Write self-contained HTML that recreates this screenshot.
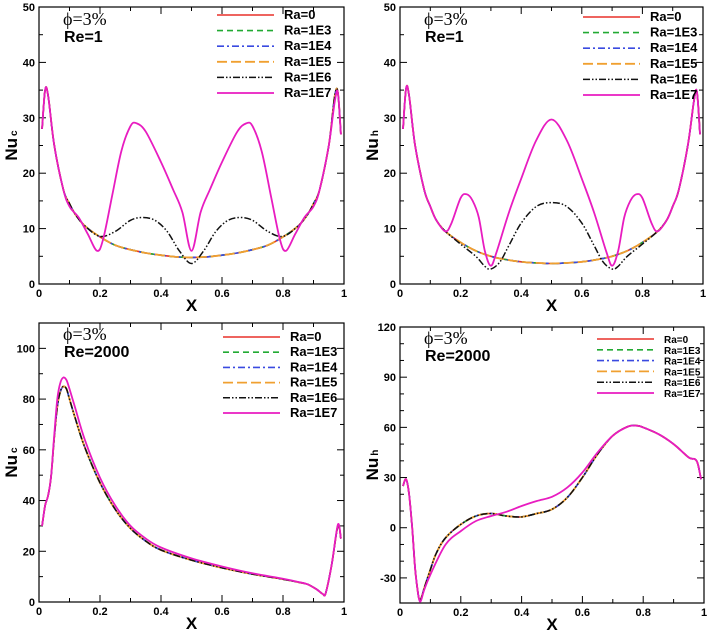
<!DOCTYPE html>
<html><head><meta charset="utf-8"><style>
body{margin:0;background:#fff;}
svg{display:block;font-family:"Liberation Sans",sans-serif;}
</style></head><body>
<svg id="fig" width="709" height="633" viewBox="0 0 709 633"></svg>
<script>
// ---- data ----
const tlBaseX=[0.01,0.02,0.03,0.05,0.08,0.1,0.12,0.15,0.2,0.25,0.3,0.35,0.4,0.45,0.5,0.55,0.6,0.65,0.7,0.75,0.8,0.85,0.88,0.9,0.92,0.95,0.97,0.98,0.99];
const tlBaseY=[28,35,34,25,17,14.5,12.5,10.5,8.5,7,6.2,5.6,5.2,4.9,4.8,4.9,5.2,5.6,6.2,7,8.5,10.5,12.5,14.5,17,25,34,34.5,27];
const tlR6X=[0.01,0.02,0.03,0.05,0.08,0.1,0.12,0.15,0.2,0.25,0.3,0.34,0.38,0.42,0.46,0.5,0.54,0.58,0.62,0.66,0.7,0.75,0.8,0.85,0.88,0.9,0.92,0.95,0.97,0.98,0.99];
const tlR6Y=[28,35,34,25,17,14.5,12.5,10.5,8.6,9.5,11.5,12,11.5,9.5,6,3.7,6,9.5,11.5,12,11.5,9.5,8.6,10.5,12.5,14.5,17,25,34,34.5,27];
const tlR7X=[0.01,0.02,0.03,0.05,0.08,0.1,0.13,0.16,0.19,0.21,0.24,0.27,0.3,0.32,0.35,0.4,0.44,0.47,0.5,0.53,0.56,0.6,0.65,0.68,0.7,0.73,0.76,0.79,0.81,0.84,0.87,0.9,0.92,0.95,0.97,0.98,0.99];
const tlR7Y=[28,35,34,25,17,14,12,9,6,8,16,24,28.5,29,27.5,22,17,13,6,13,17,22,27.5,29,28.5,24,16,8,6,9,12,14,17,25,33,34.5,27];

const trBaseX=[0.01,0.02,0.03,0.05,0.08,0.1,0.12,0.15,0.2,0.25,0.3,0.35,0.4,0.45,0.5,0.55,0.6,0.65,0.7,0.75,0.8,0.85,0.88,0.9,0.92,0.95,0.97,0.98,0.99];
const trBaseY=[28,35.3,34,25,17,14,11.5,9.5,7.5,6,5,4.4,4,3.8,3.7,3.8,4,4.4,5,6,7.5,9.5,11.5,14,17,25,33,34.7,27];
const trR6X=[0.01,0.02,0.03,0.05,0.08,0.1,0.12,0.15,0.2,0.25,0.28,0.3,0.33,0.36,0.4,0.45,0.5,0.55,0.6,0.64,0.67,0.7,0.72,0.75,0.8,0.85,0.88,0.9,0.92,0.95,0.97,0.98,0.99];
const trR6Y=[28,35.3,34,25,17,14,11.5,9.5,7.2,5,3.2,2.7,4,7,11,14,14.7,14,11,7,4,2.7,3.2,5,7.2,9.5,11.5,14,17,25,33,34.7,27];
const trR7X=[0.01,0.02,0.03,0.05,0.08,0.1,0.12,0.15,0.17,0.2,0.22,0.24,0.26,0.28,0.3,0.32,0.36,0.4,0.45,0.5,0.55,0.6,0.64,0.68,0.7,0.72,0.74,0.76,0.78,0.8,0.83,0.85,0.88,0.9,0.92,0.95,0.97,0.98,0.99];
const trR7Y=[28,35.3,34,25,17,14,11.5,9.5,11,15.5,16.2,15,12,6,3.3,6,13,19,26,29.7,26,19,13,6,3.3,6,12,15,16.2,15.5,11,9.5,11.5,14,17,25,33,34.7,27];

const blBaseX=[0.01,0.02,0.03,0.04,0.05,0.06,0.07,0.08,0.09,0.1,0.12,0.15,0.2,0.25,0.3,0.35,0.4,0.5,0.6,0.7,0.8,0.85,0.88,0.91,0.93,0.94,0.96,0.98,0.99];
const blBaseY=[30,38,42,50,65,77,83,85,84,80,72,61,47,36.5,29,24,20.5,16.5,13.5,11,9,7.8,7,5,3.2,3.5,15,30,25];
const blR7X=[0.01,0.02,0.03,0.04,0.05,0.06,0.07,0.08,0.09,0.1,0.12,0.15,0.2,0.25,0.3,0.35,0.4,0.5,0.6,0.7,0.8,0.85,0.88,0.91,0.93,0.94,0.96,0.98,0.99];
const blR7Y=[30,38,42,50,66,80,86.5,88.5,87.5,84,76,64,49,38,30,25,21.5,17.2,14,11.3,9.2,7.9,7,5,3.2,3.5,15,30.5,25];

const brBaseX=[0.01,0.02,0.03,0.04,0.05,0.06,0.065,0.07,0.08,0.1,0.12,0.15,0.2,0.25,0.3,0.35,0.4,0.45,0.5,0.55,0.6,0.65,0.7,0.75,0.78,0.8,0.85,0.9,0.95,0.97,0.98,0.99];
const brBaseY=[25,29,20,0,-25,-40,-43,-42,-36,-25,-15,-6,2,7,8.5,7,6.5,8.5,11,18,30,44,55,60.5,61,60,56,50,42,41,38,29];
const brR7X=[0.01,0.02,0.03,0.04,0.05,0.06,0.065,0.07,0.08,0.1,0.15,0.2,0.25,0.3,0.35,0.4,0.45,0.5,0.55,0.6,0.65,0.7,0.75,0.78,0.8,0.85,0.9,0.95,0.97,0.98,0.99];
const brR7Y=[25,29,20,0,-25,-40,-44,-43,-37,-28,-10,-2,4,7,9.5,13,16,18.5,24,33,45,55,60.5,61,60,56,50,42,41,38,29];

const legendLabels=["Ra=0","Ra=1E3","Ra=1E4","Ra=1E5","Ra=1E6","Ra=1E7"];
const xTicks=[0,0.2,0.4,0.6,0.8,1];
const xTickLabels=["0","0.2","0.4","0.6","0.8","1"];

const NS="http://www.w3.org/2000/svg";
const svg=document.getElementById('fig');
function mk(tag,attrs,parent){const e=document.createElementNS(NS,tag);for(const k in attrs)e.setAttribute(k,attrs[k]);(parent||svg).appendChild(e);return e;}
const styles=[
 {c:"#e8302a",d:"",w:1.6},
 {c:"#22aa33",d:"6,4",w:1.6},
 {c:"#3a4ae0",d:"7,3,2,3",w:1.6},
 {c:"#f0a030",d:"10,4",w:1.8},
 {c:"#111",d:"7,2,1.5,2,1.5,2",w:1.5},
 {c:"#e81cc0",d:"",w:1.8}];
function smooth(p){let d="M"+p[0][0]+","+p[0][1];for(let i=0;i<p.length-1;i++){const p0=p[i-1]||p[i],p1=p[i],p2=p[i+1],p3=p[i+2]||p2;const c1x=p1[0]+(p2[0]-p0[0])/6,c1y=p1[1]+(p2[1]-p0[1])/6,c2x=p2[0]-(p3[0]-p1[0])/6,c2y=p2[1]-(p3[1]-p1[1])/6;d+=`C${c1x.toFixed(1)},${c1y.toFixed(1)} ${c2x.toFixed(1)},${c2y.toFixed(1)} ${p2[0].toFixed(1)},${p2[1].toFixed(1)}`;}return d;}

function panel(cfg){
 const g=mk('g',{});
 
 
 const {x0,x1,yTop,yBot,ymin,ymax}=cfg;
 const sx=v=>x0+(x1-x0)*v;
 const sy=v=>yBot-(yBot-yTop)*(v-ymin)/(ymax-ymin);
 const fr=mk('rect',{x:x0,y:yTop,width:x1-x0,height:yBot-yTop,fill:"none",stroke:"#000","stroke-width":1.2},g);
 
 // y ticks
 for(let v=cfg.yStart;v<=ymax+1e-9;v+=cfg.yMinor){
  const y=sy(v);const major=Math.abs(((v-cfg.yStart)/cfg.yMajor)-Math.round((v-cfg.yStart)/cfg.yMajor))<1e-6;
  const L=major?7:4;
  mk('line',{x1:x0,y1:y,x2:x0+L,y2:y,stroke:"#000","stroke-width":1},g);
  mk('line',{x1:x1,y1:y,x2:x1-L,y2:y,stroke:"#000","stroke-width":1},g);
  if(major){const t=mk('text',{x:x0-4,y:y+4,"text-anchor":"end","font-size":11,"font-weight":"bold"},g);t.textContent=String(Math.round(v));
   }
 }
 xTicks.forEach((v,i)=>{const x=sx(v);
  mk('line',{x1:x,y1:yBot,x2:x,y2:yBot-7,stroke:"#000"},g);mk('line',{x1:x,y1:yTop,x2:x,y2:yTop+7,stroke:"#000"},g);
  if(i<5){const xm=sx(v+0.1);mk('line',{x1:xm,y1:yBot,x2:xm,y2:yBot-4,stroke:"#000"},g);mk('line',{x1:xm,y1:yTop,x2:xm,y2:yTop+4,stroke:"#000"},g);}
  const t=mk('text',{x:x,y:yBot+13,"text-anchor":"middle","font-size":11,"font-weight":"bold"},g);t.textContent=xTickLabels[i];
  });
 const xl=mk('text',{x:(x0+x1)/2,y:yBot+27,"text-anchor":"middle","font-size":17,"font-weight":"bold"},g);xl.textContent="X";
 
 const cy=(yTop+yBot)/2;
 const yl=mk('text',{x:0,y:0,transform:`translate(${x0-22},${cy}) rotate(-90)`,"text-anchor":"middle","font-size":17,"font-weight":"bold"},g);
 yl.innerHTML=`Nu<tspan font-size="10" dx="2">${cfg.sub}</tspan>`;
 
 // series
 const clip='clip'+cfg.name;const cp=mk('clipPath',{id:clip},g);mk('rect',{x:x0,y:yTop,width:x1-x0,height:yBot-yTop},cp);
 const series=[cfg.bx,cfg.bx,cfg.bx,cfg.bx,cfg.r6x,cfg.r7x];
 const seriesY=[cfg.by,cfg.by,cfg.by,cfg.by,cfg.r6y,cfg.r7y];
 for(let s=0;s<6;s++){const st=styles[s];
  const pts=series[s].map((xv,i)=>[sx(xv),sy(seriesY[s][i])]);
  const p=mk('path',{d:smooth(pts),fill:"none",stroke:st.c,"stroke-width":st.w,"stroke-dasharray":st.d,"clip-path":`url(#${clip})`},g);
  }
 // annotation
 const a1=mk('text',{x:x0+24,y:yTop+cfg.annY,"font-family":"Liberation Serif,serif","font-size":18},g);a1.textContent="ϕ=3%";
 
 const a2=mk('text',{x:x0+25,y:yTop+cfg.annY+17,"font-size":16,"font-weight":"bold"},g);a2.textContent=cfg.re;
 
 // legend
 const lg=mk('g',{},g);
 legendLabels.forEach((lab,i)=>{const y=cfg.legY+i*cfg.legDy;const st=styles[i];
  mk('line',{x1:cfg.legX,y1:y,x2:cfg.legX+57,y2:y,stroke:st.c,"stroke-width":st.w,"stroke-dasharray":st.d},lg);
  const t=mk('text',{x:cfg.legX+67,y:y+4,"font-size":cfg.legFs,"font-weight":"bold"},lg);t.textContent=lab;
  });
}
panel({name:"panel-nuc-re1",x0:39,x1:344,yTop:7,yBot:284,ymin:0,ymax:50,yStart:0,yMajor:10,yMinor:5,sub:"c",re:"Re=1",annY:18,
 bx:tlBaseX,by:tlBaseY,r6x:tlR6X,r6y:tlR6Y,r7x:tlR7X,r7y:tlR7Y,legX:217,legY:15,legDy:15.6,legFs:13});
panel({name:"panel-nuh-re1",x0:400,x1:703,yTop:7,yBot:284,ymin:0,ymax:50,yStart:0,yMajor:10,yMinor:5,sub:"h",re:"Re=1",annY:18,
 bx:trBaseX,by:trBaseY,r6x:trR6X,r6y:trR6Y,r7x:trR7X,r7y:trR7Y,legX:583,legY:17,legDy:15.6,legFs:13});
panel({name:"panel-nuc-re2000",x0:39,x1:344,yTop:323,yBot:602,ymin:0,ymax:110,yStart:0,yMajor:20,yMinor:10,sub:"c",re:"Re=2000",annY:17,
 bx:blBaseX,by:blBaseY,r6x:blBaseX,r6y:blBaseY,r7x:blR7X,r7y:blR7Y,legX:223,legY:337,legDy:15.2,legFs:13});
panel({name:"panel-nuh-re2000",x0:400,x1:704,yTop:327,yBot:603,ymin:-45,ymax:120,yStart:-30,yMajor:30,yMinor:10,sub:"h",re:"Re=2000",annY:17,
 bx:brBaseX,by:brBaseY,r6x:brBaseX,r6y:brBaseY,r7x:brR7X,r7y:brR7Y,legX:597,legY:339,legDy:10.8,legFs:10});
</script>
</body></html>
